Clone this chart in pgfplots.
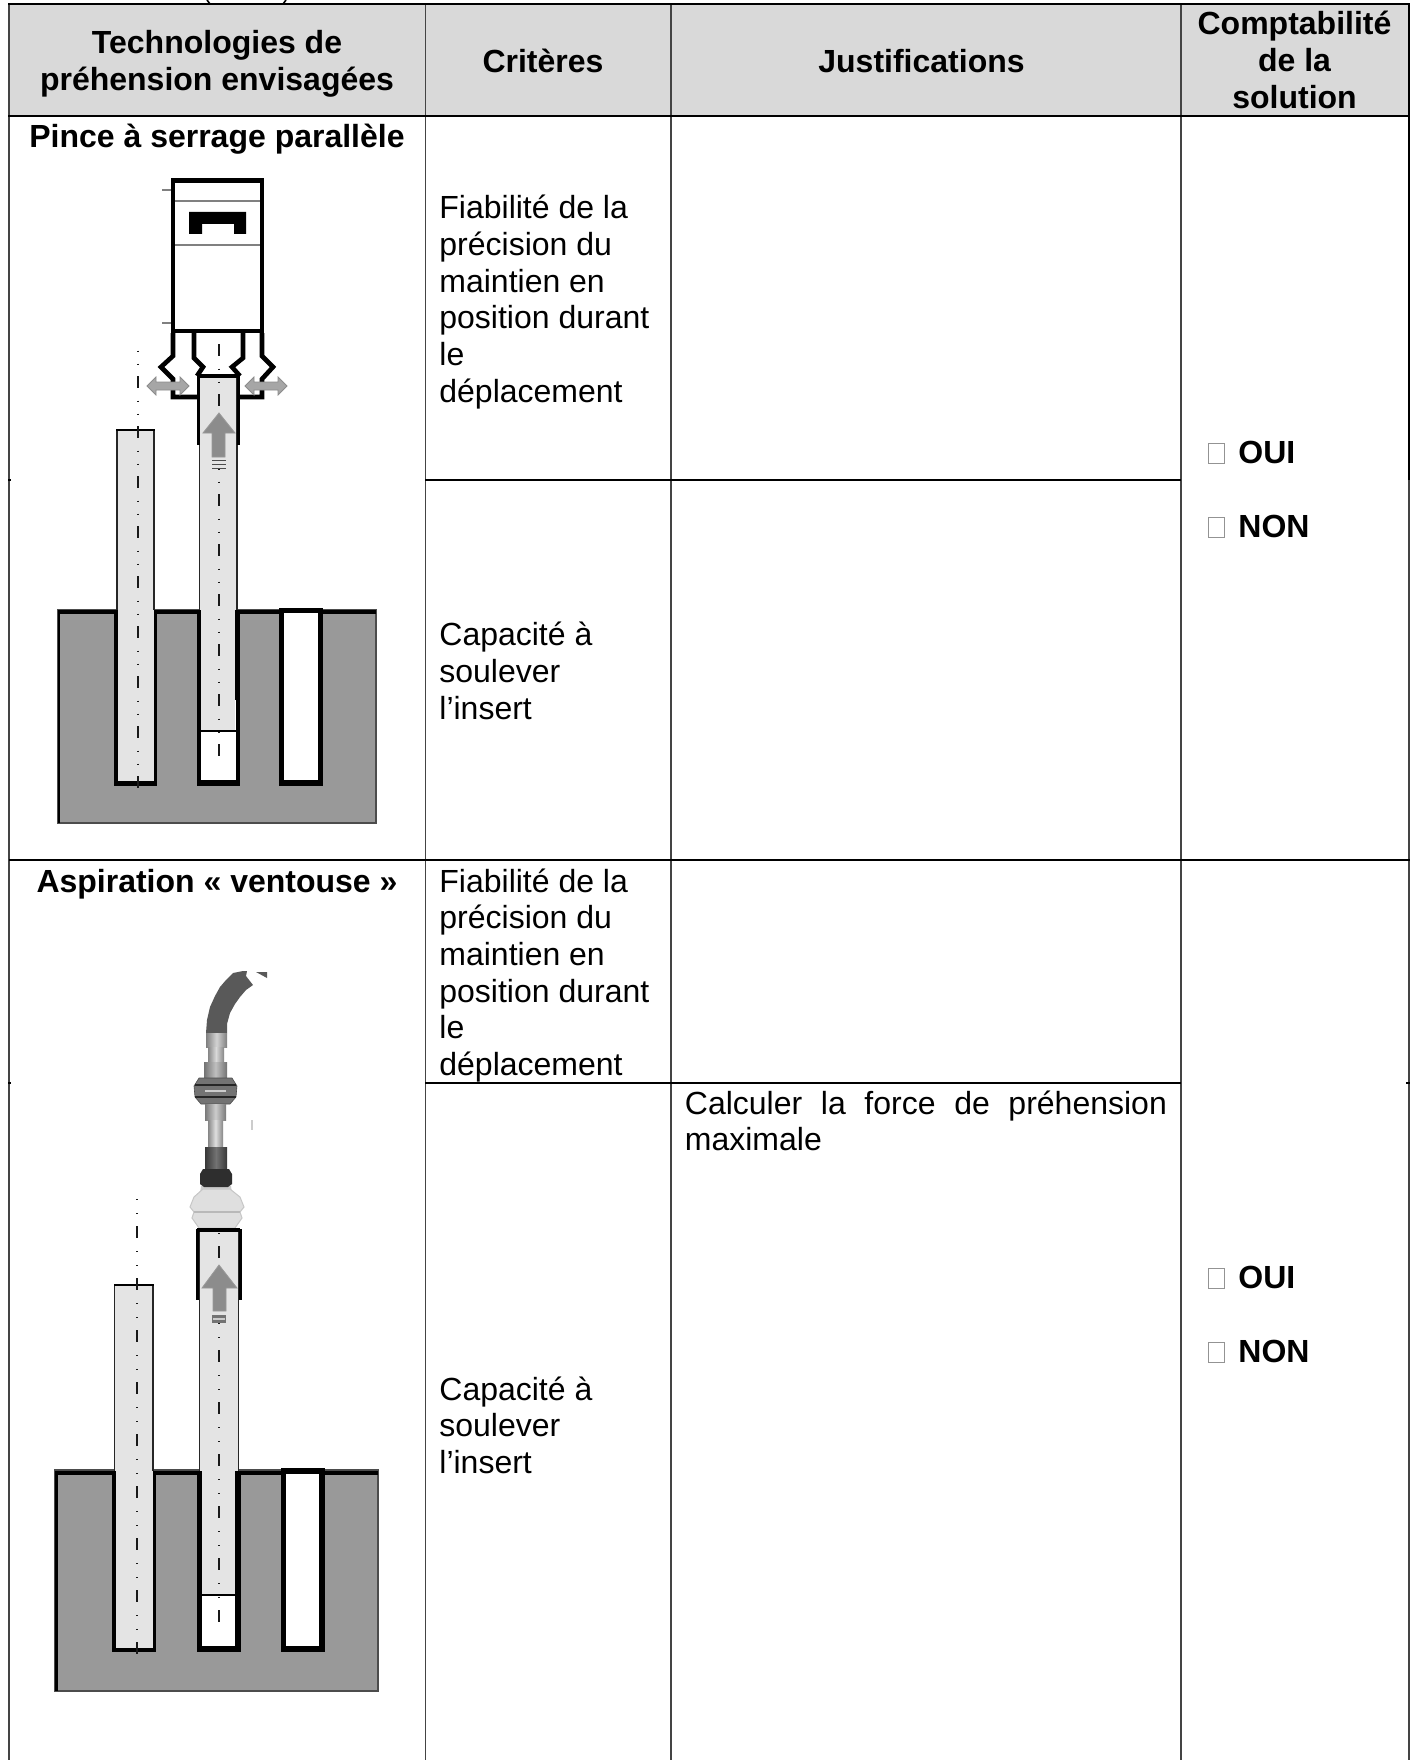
\documentclass[border=0pt]{standalone}
\usepackage{pgfplots}
\usepackage{fontspec}
\pgfplotsset{compat=1.18}
\setmainfont{Liberation Sans}
\definecolor{hdr}{HTML}{D9D9D9}
\definecolor{ins}{HTML}{E4E4E4}
\definecolor{blk}{HTML}{999999}
\definecolor{arr}{HTML}{8C8C8C}
\definecolor{vl}{HTML}{444444}
\newcommand\rect[5]{\addplot[#1] coordinates {(#2,#3)(#4,#3)(#4,#5)(#2,#5)} -- cycle;}
\newcommand\seg[5]{\addplot[#1] coordinates {(#2,#3)(#4,#5)};}
\newcommand\bt[3]{\node[anchor=base west,inner sep=0pt] at (axis cs:#1,#2) {\fontsize{16}{18}\selectfont #3};}
\newcommand\hb[3]{\node[anchor=base,inner sep=0pt] at (axis cs:#1,#2) {\fontsize{16}{18}\selectfont\bfseries #3};}
\newcommand\hbl[3]{\node[anchor=base west,inner sep=0pt] at (axis cs:#1,#2) {\fontsize{16}{18}\selectfont\bfseries #3};}
\newcommand\metal[6]{\addplot[draw=none,left color=#5,right color=#5,middle color=#6] coordinates {(#1,#2)(#3,#2)(#3,#4)(#1,#4)} -- cycle;}
\newcommand\checkb[2]{\rect{draw=gray!85,line width=.5pt,fill=white}{#1}{#2}{#1+16}{#2+20}}
\begin{document}
\begin{tikzpicture}
\begin{axis}[
  scale only axis, width=707.5pt, height=880pt,
  xmin=0,xmax=1415,ymin=0,ymax=1760,y dir=reverse,
  axis lines=none, clip=true]
\rect{fill=white,draw=none}{0}{0}{1415}{1760}
% ---- stray text remains above the table
\seg{black,line width=.8pt}{207}{0}{210}{4}
\seg{black,line width=.8pt}{286}{0}{283}{4}
% ---- table
\rect{fill=hdr,draw=none}{9}{4}{1409}{116}
\seg{vl,line width=.9pt}{425.5}{4}{425.5}{1760}
\seg{vl,line width=.9pt}{671}{4}{671}{1760}
\seg{vl,line width=.9pt}{1181}{4}{1181}{1760}
\seg{vl,line width=.9pt}{9}{4}{9}{1760}
\seg{black,line width=1.1pt}{1409}{4}{1409}{480}
\seg{vl,line width=.9pt}{1409}{480}{1409}{1760}
\seg{black,line width=1.2pt}{8}{4}{1410}{4}
\seg{black,line width=1pt}{8}{116}{1410}{116}
\seg{black,line width=.9pt}{9}{860}{1410}{860}
\seg{black,line width=.9pt}{425}{480}{1181}{480}
\seg{black,line width=.9pt}{425}{1083}{1181}{1083}
\seg{black,line width=.8pt}{8}{480}{11}{480}
\seg{black,line width=.8pt}{1406}{1083}{1410}{1083}
\seg{black,line width=.8pt}{8}{1083}{11}{1083}
% ---- header text
\hb{217}{54}{Technologies de}
\hb{217}{90.5}{préhension envisagées}
\hb{543}{73}{Critères}
\hb{921.5}{73}{Justifications}
\hb{1294.5}{34.5}{Comptabilité}
\hb{1294.5}{71.5}{de la}
\hb{1294.5}{109}{solution}
\hb{217}{148}{Pince à serrage parallèle}
\hb{217}{892}{Aspiration « ventouse »}
% ---- body text
\bt{439}{219}{Fiabilité de la}
\bt{439}{256}{précision du}
\bt{439}{292.5}{maintien en}
\bt{439}{328.5}{position durant}
\bt{439}{365.5}{le}
\bt{439}{402}{déplacement}
\bt{439}{645}{Capacité à}
\bt{439}{682}{soulever}
\bt{439}{719.5}{l’insert}
\bt{439}{892}{Fiabilité de la}
\bt{439}{928}{précision du}
\bt{439}{965}{maintien en}
\bt{439}{1002}{position durant}
\bt{439}{1038}{le}
\bt{439}{1075}{déplacement}
\bt{439}{1400}{Capacité à}
\bt{439}{1436.5}{soulever}
\bt{439}{1473}{l’insert}
\node[anchor=base west,inner sep=0pt] at (axis cs:684.5,1114) {\fontsize{16}{18}\selectfont\makebox[241pt][s]{Calculer la force de préhension}};
\bt{684.5}{1150.5}{maximale}
% ---- check boxes
\checkb{1208.5}{443}
\hbl{1238}{463}{OUI}
\checkb{1208.5}{517}
\hbl{1238}{537}{NON}
\checkb{1208.5}{1268}
\hbl{1238}{1288}{OUI}
\checkb{1208.5}{1342}
\hbl{1238}{1362}{NON}
% ======== diagram 1
\addplot[black,line width=2.3pt,line join=miter] coordinates {(173,333)(173,356)(161,367)(173,379)(173,397)(199,397)};
\addplot[black,line width=2.3pt] coordinates {(194,333)(194,358)(203,367)(197,376)};
\addplot[black,line width=2.3pt] coordinates {(243,333)(243,358)(232,367)(240,376)};
\addplot[black,line width=2.3pt] coordinates {(262,333)(262,356)(273,367)(262,379)(262,397)(238,397)};
\rect{draw=black,line width=2.4pt,fill=white}{173}{180.5}{262}{331}
\seg{gray,line width=.6pt}{175}{201}{260}{201}
\seg{gray,line width=.6pt}{175}{245}{260}{245}
\seg{gray,line width=.6pt}{162}{190}{171}{190}
\seg{gray,line width=.6pt}{162}{323}{171}{323}
\addplot[fill=black,draw=none] coordinates {(189,212)(246,212)(246,234)(234,234)(234,224)(202,224)(202,234)(189,234)} -- cycle;
\addplot[fill=gray!70,draw=gray!90,line width=.4pt] coordinates {(147,386)(156,377)(156,382)(180,382)(180,377)(189,386)(180,395)(180,390)(156,390)(156,395)} -- cycle;
\addplot[fill=gray!70,draw=gray!90,line width=.4pt] coordinates {(245,386)(254,377)(254,382)(278,382)(278,377)(287,386)(278,395)(278,390)(254,390)(254,395)} -- cycle;
% block
\rect{fill=blk,draw=black!70,line width=.6pt}{58}{610}{376}{823}
\seg{black,line width=2.2pt}{58}{612}{376}{612}
\seg{black,line width=1.1pt}{59}{611}{59}{823}
\rect{fill=black,draw=none}{114}{610}{156.5}{786}
\rect{fill=black,draw=none}{197}{610}{239.5}{786}
\rect{fill=black,draw=none}{279.3}{608.3}{322.7}{786}
\rect{fill=white,draw=none}{284.3}{613.3}{317.7}{780}
\rect{fill=white,draw=none}{201}{700}{235.5}{780}
% left insert
\rect{fill=ins,draw=none}{117}{430}{154}{610}
\seg{black!85,line width=.7pt}{117}{430}{117}{610}
\seg{black!85,line width=.7pt}{154}{430}{154}{610}
\rect{fill=ins,draw=none}{118}{610}{153.8}{781}
\seg{black,line width=1pt}{116}{430}{155}{430}
\addplot[black!90,line width=1pt,dash pattern=on .7pt off 5.8pt on .7pt off 5.55pt on 6pt off 6.25pt] coordinates {(137.7,350.5)(137.7,790)};
% lifted insert
\rect{fill=ins,draw=none}{199.7}{376}{237}{610}
\seg{black!85,line width=.7pt}{199.7}{376}{199.7}{610}
\seg{black!85,line width=.7pt}{237}{376}{237}{610}
\rect{fill=ins,draw=none}{201.3}{610}{235.3}{731}
\seg{black,line width=.7pt}{201}{731}{235.5}{731}
\seg{black,line width=1.7pt}{198}{376}{239}{376}
\seg{black,line width=1.5pt}{198.5}{375}{198.5}{445}
\seg{black,line width=1.5pt}{238.5}{375}{238.5}{445}
\addplot[black!90,line width=1pt,dash pattern=on 6pt off 6.25pt on .7pt off 5.8pt on .7pt off 5.55pt] coordinates {(219,344)(219,758)};
\addplot[fill=arr,draw=gray!80,line width=.4pt] coordinates {(219,413)(235,433)(225,433)(225,457)(212,457)(212,433)(203,433)} -- cycle;
\seg{black!70,line width=.7pt}{212}{460.5}{226}{460.5}
\seg{black!70,line width=.7pt}{212}{464.5}{226}{464.5}
\seg{black!70,line width=.7pt}{212}{468.5}{226}{468.5}
% ======== diagram 2
\addplot[fill=black!65,draw=none] coordinates {(206,1033)(207,1020)(210,1007)(215,996)(220,987)(226,980)(233,973)(243,971)(247,971)(246,976)(253,985)(246,990)(240,997)(235,1004)(230,1013)(227,1024)(227,1033)} -- cycle;
\addplot[fill=black!65,draw=none] coordinates {(256,972)(267,972)(267,978)} -- cycle;
\metal{206}{1033}{227}{1047}{gray!100}{gray!35}{}
\metal{208}{1047}{224}{1062}{gray!95}{gray!30}{}
\metal{204}{1062}{227}{1081}{gray!110}{gray!50}{}
\addplot[fill=black!55,draw=black!70,line width=.3pt] coordinates {(199,1078)(232,1078)(237,1086)(236,1097)(230,1104)(201,1104)(195,1097)(194,1086)} -- cycle;
\seg{black!85,line width=1.4pt}{195}{1085}{236}{1085}
\seg{gray!40,line width=1pt}{205}{1091}{226}{1091}
\seg{black!85,line width=1.4pt}{195}{1097}{236}{1097}
\metal{205}{1104}{226}{1120}{gray!105}{gray!40}{}
\metal{208}{1120}{223}{1147}{gray!95}{gray!25}{}
\metal{205}{1147}{227}{1175}{black!78}{black!55}{}
\addplot[fill=gray!40,draw=none] coordinates {(201,1186)(231,1186)(233,1200)(199,1200)} -- cycle;
\addplot[fill=gray!25,draw=gray!45,line width=.5pt] coordinates {(203,1189)(230,1189)(240,1197)(244,1207)(240,1212)(242,1218)(235,1228)(199,1228)(192,1218)(194,1212)(190,1207)(194,1197)} -- cycle;
\seg{gray!55,line width=.6pt}{194}{1212}{240}{1212}
\addplot[fill=black!82,draw=none] coordinates {(203,1169)(229,1169)(232,1174)(232,1184)(228,1187)(204,1187)(200,1184)(200,1174)} -- cycle;
\seg{gray!40,line width=.6pt}{252}{1120}{252}{1130}
% block
\rect{fill=blk,draw=black!70,line width=.6pt}{55}{1470}{378}{1691}
\seg{black,line width=2.2pt}{55}{1473}{378}{1473}
\seg{black,line width=1.4pt}{56.5}{1471}{56.5}{1691}
\rect{fill=black,draw=none}{112.3}{1471}{156}{1652}
\rect{fill=black,draw=none}{196.7}{1471}{240.7}{1652}
\rect{fill=black,draw=none}{280.7}{1468}{325}{1652}
\rect{fill=white,draw=none}{286}{1474}{319.3}{1646}
\rect{fill=white,draw=none}{201.7}{1560}{235}{1646}
% left insert
\rect{fill=ins,draw=none}{114.6}{1285}{153}{1471}
\seg{black!85,line width=.7pt}{114.6}{1285}{114.6}{1471}
\seg{black!85,line width=.7pt}{153}{1285}{153}{1471}
\rect{fill=ins,draw=none}{116}{1471}{153.3}{1648}
\seg{black,line width=1pt}{114}{1285}{154}{1285}
\addplot[black!90,line width=1pt,dash pattern=on .7pt off 6.3pt on .7pt off 5.8pt on 6pt off 6.5pt] coordinates {(136.7,1199)(136.7,1655)};
% lifted insert
\rect{fill=ins,draw=none}{199.6}{1230}{238.4}{1471}
\seg{black!85,line width=.7pt}{199.6}{1230}{199.6}{1471}
\seg{black!85,line width=.7pt}{238.4}{1230}{238.4}{1471}
\rect{fill=ins,draw=none}{201.7}{1471}{235}{1595}
\seg{black,line width=.7pt}{201.7}{1595}{235}{1595}
\seg{black,line width=1.7pt}{197}{1230}{240}{1230}
\seg{black,line width=1.5pt}{197}{1229}{197}{1300}
\seg{black,line width=1.5pt}{240}{1229}{240}{1300}
\addplot[black!90,line width=1pt,dash pattern=on .7pt off 5.8pt on 6pt off 6.5pt on .7pt off 6.3pt] coordinates {(219,1233)(219,1625)};
\addplot[fill=arr,draw=gray!80,line width=.4pt] coordinates {(219,1265)(237,1288)(226,1288)(226,1311)(213,1311)(213,1288)(202,1288)} -- cycle;
\rect{fill=black!55,draw=none}{212}{1315}{226}{1323}
\seg{gray!40,line width=.6pt}{213}{1319}{225}{1319}
\end{axis}
\end{tikzpicture}
\end{document}
